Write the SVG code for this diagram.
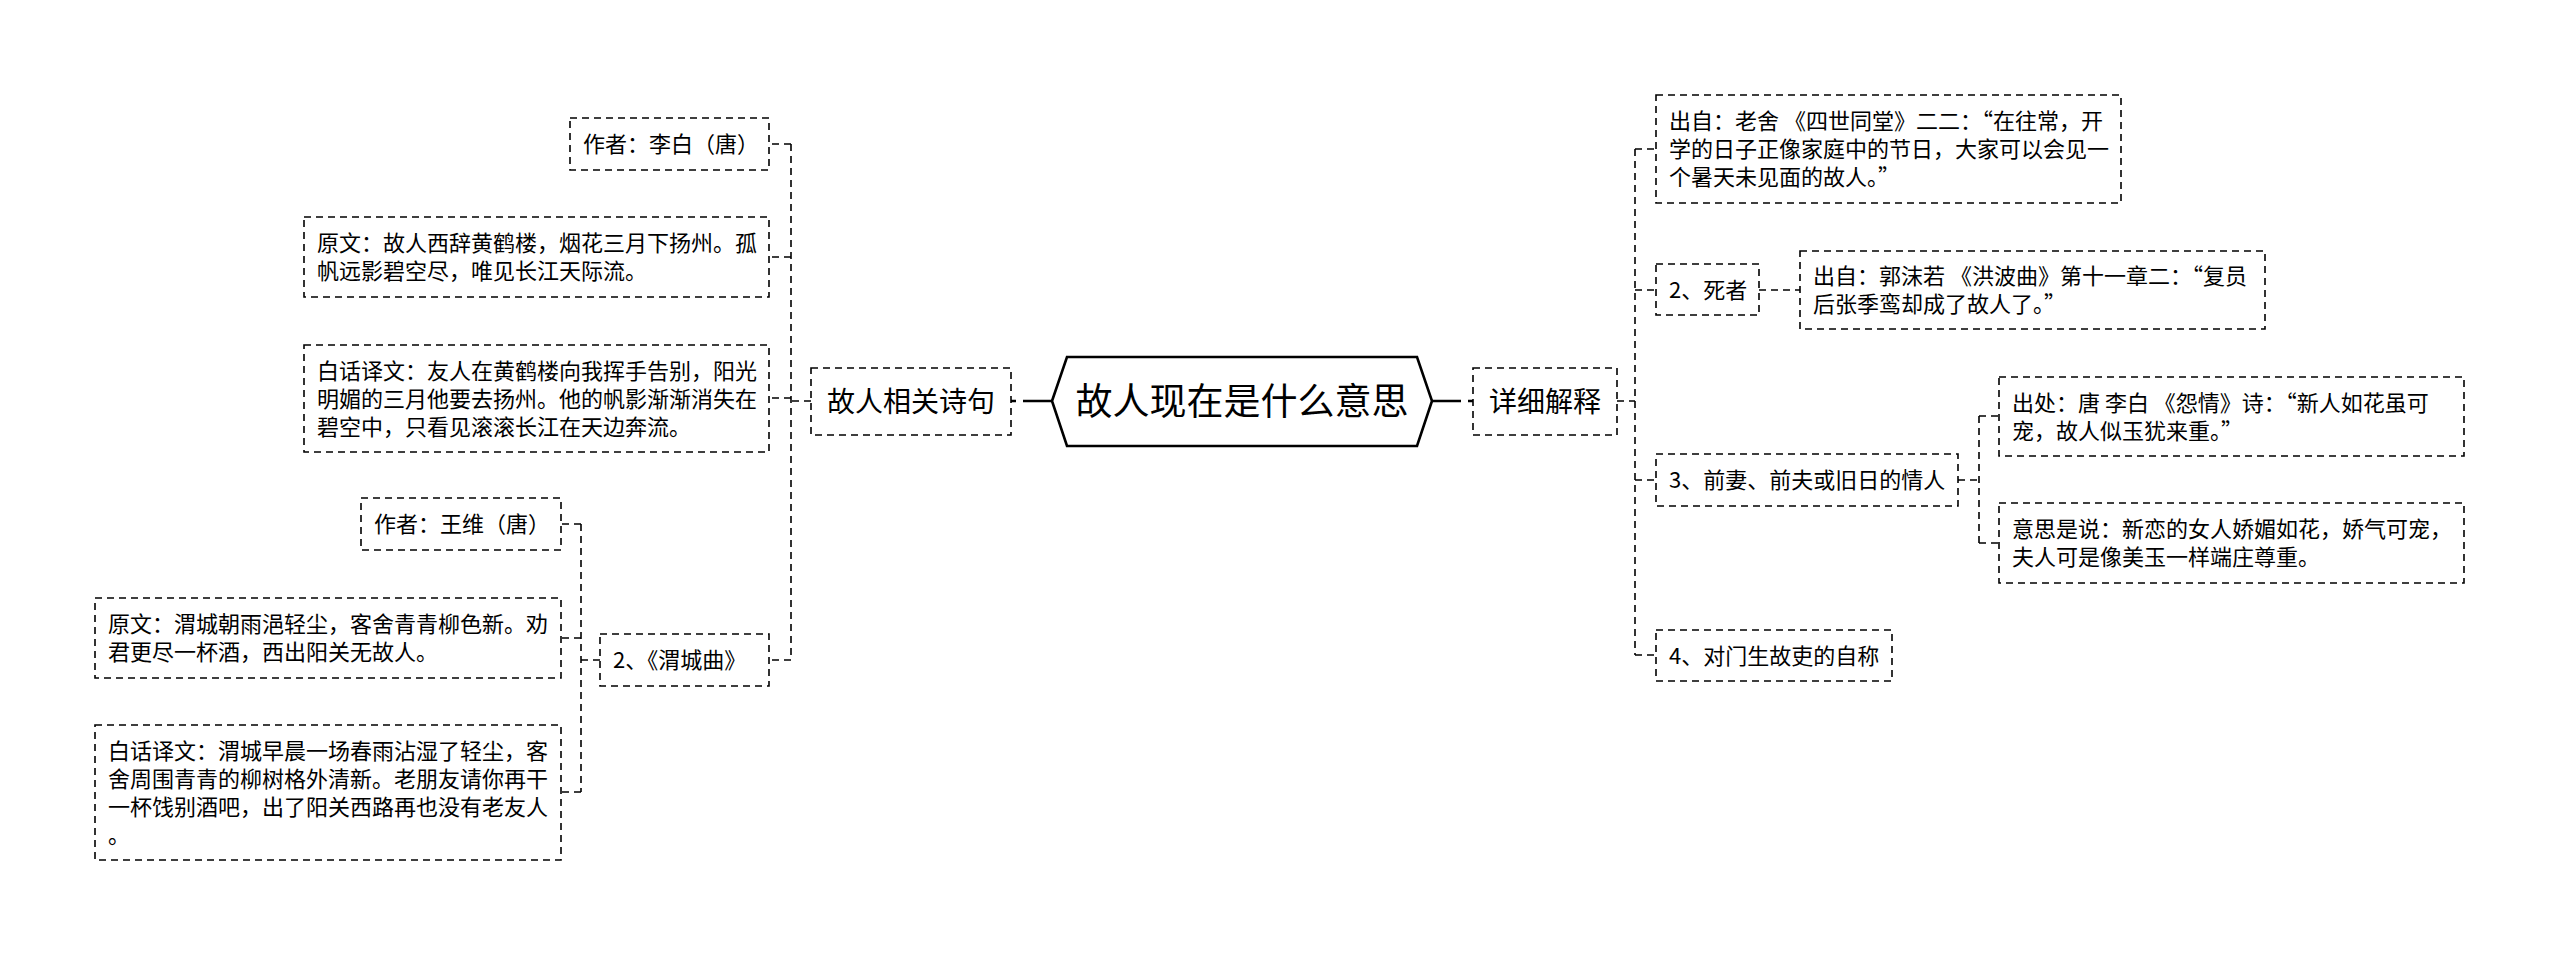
<svg xmlns="http://www.w3.org/2000/svg" width="2560" height="956" viewBox="0 0 2560 956">
<style>
.bg{fill:#fff}
.box{fill:#fff;stroke:#000;stroke-width:1.6;stroke-dasharray:7 5}
.t{font-family:"Noto Sans CJK SC","Liberation Sans",sans-serif;font-size:22px;fill:#000}
.tm{font-family:"Noto Sans CJK SC","Liberation Sans",sans-serif;font-size:28px;fill:#000;text-anchor:middle}
.tc{font-family:"Noto Sans CJK SC","Liberation Sans",sans-serif;font-size:37px;fill:#000;text-anchor:middle}
.c{fill:none;stroke:#000;stroke-width:1.6;stroke-dasharray:7 5}
.cm{fill:none;stroke:#000;stroke-width:2.6;stroke-dasharray:29 7}
.hex{fill:#fff;stroke:#000;stroke-width:2.6}
</style>
<rect class="bg" x="0" y="0" width="2560" height="956"/>
<g id="connectors">
<path class="cm" d="M1052,401 H1011"/>
<path class="cm" d="M1432,401 H1473"/>
<path class="c" d="M811,401 H791"/>
<path class="c" d="M791,144 V660"/>
<path class="c" d="M791,144 H769"/>
<path class="c" d="M791,257 H769"/>
<path class="c" d="M791,398 H769"/>
<path class="c" d="M791,660 H769"/>
<path class="c" d="M600,660 H581"/>
<path class="c" d="M581,524 V792"/>
<path class="c" d="M581,524 H561"/>
<path class="c" d="M581,638 H561"/>
<path class="c" d="M581,792 H561"/>
<path class="c" d="M1617,401 H1635"/>
<path class="c" d="M1635,149 V655"/>
<path class="c" d="M1635,149 H1656"/>
<path class="c" d="M1635,290 H1656"/>
<path class="c" d="M1635,480 H1656"/>
<path class="c" d="M1635,655 H1656"/>
<path class="c" d="M1759,290 H1800"/>
<path class="c" d="M1958,480 H1979"/>
<path class="c" d="M1979,416 V543"/>
<path class="c" d="M1979,416 H1999"/>
<path class="c" d="M1979,543 H1999"/>
</g>
<g id="root">
<polygon class="hex" points="1052,401 1067,357 1417,357 1432,401 1417,446 1067,446"/>
<text class="tc" x="1242" y="415">故人现在是什么意思</text>
</g>
<g id="n-poems">
<rect class="box" x="811" y="368" width="200" height="67"/>
<text class="tm" x="911" y="412">故人相关诗句</text>
</g>
<g id="n-detail">
<rect class="box" x="1473" y="368" width="144" height="67"/>
<text class="tm" x="1545" y="412">详细解释</text>
</g>
<g id="n-libai-author">
<rect class="box" x="570" y="118" width="199" height="52"/>
<text class="t" x="583" y="152">作者：李白（唐）</text>
</g>
<g id="n-libai-text">
<rect class="box" x="304" y="217" width="465" height="80"/>
<text class="t" x="317" y="251">原文：故人西辞黄鹤楼，烟花三月下扬州。孤</text>
<text class="t" x="317" y="279">帆远影碧空尽，唯见长江天际流。</text>
</g>
<g id="n-libai-trans">
<rect class="box" x="304" y="345" width="465" height="107"/>
<text class="t" x="317" y="379">白话译文：友人在黄鹤楼向我挥手告别，阳光</text>
<text class="t" x="317" y="407">明媚的三月他要去扬州。他的帆影渐渐消失在</text>
<text class="t" x="317" y="435">碧空中，只看见滚滚长江在天边奔流。</text>
</g>
<g id="n-weicheng">
<rect class="box" x="600" y="634" width="169" height="52"/>
<text class="t" x="613" y="668">2、《渭城曲》</text>
</g>
<g id="n-wangwei-author">
<rect class="box" x="361" y="498" width="200" height="52"/>
<text class="t" x="374" y="532">作者：王维（唐）</text>
</g>
<g id="n-wangwei-text">
<rect class="box" x="95" y="598" width="466" height="80"/>
<text class="t" x="108" y="632">原文：渭城朝雨浥轻尘，客舍青青柳色新。劝</text>
<text class="t" x="108" y="660">君更尽一杯酒，西出阳关无故人。</text>
</g>
<g id="n-wangwei-trans">
<rect class="box" x="95" y="725" width="466" height="135"/>
<text class="t" x="108" y="759">白话译文：渭城早晨一场春雨沾湿了轻尘，客</text>
<text class="t" x="108" y="787">舍周围青青的柳树格外清新。老朋友请你再干</text>
<text class="t" x="108" y="815">一杯饯别酒吧，出了阳关西路再也没有老友人</text>
<text class="t" x="108" y="843">。</text>
</g>
<g id="n-laoshe">
<rect class="box" x="1656" y="95" width="465" height="108"/>
<text class="t" x="1669" y="129">出自：老舍 《四世同堂》二二：“在往常，开</text>
<text class="t" x="1669" y="157">学的日子正像家庭中的节日，大家可以会见一</text>
<text class="t" x="1669" y="185">个暑天未见面的故人。”</text>
</g>
<g id="n-dead">
<rect class="box" x="1656" y="264" width="103" height="51"/>
<text class="t" x="1669" y="298">2、死者</text>
</g>
<g id="n-guomoruo">
<rect class="box" x="1800" y="251" width="465" height="78"/>
<text class="t" x="1813" y="284">出自：郭沫若 《洪波曲》第十一章二：“复员</text>
<text class="t" x="1813" y="312">后张季鸾却成了故人了。”</text>
</g>
<g id="n-former">
<rect class="box" x="1656" y="454" width="302" height="52"/>
<text class="t" x="1669" y="488">3、前妻、前夫或旧日的情人</text>
</g>
<g id="n-yuanqing">
<rect class="box" x="1999" y="377" width="465" height="79"/>
<text class="t" x="2012" y="411">出处：唐 李白 《怨情》诗：“新人如花虽可</text>
<text class="t" x="2012" y="439">宠，故人似玉犹来重。”</text>
</g>
<g id="n-meaning">
<rect class="box" x="1999" y="503" width="465" height="80"/>
<text class="t" x="2012" y="537">意思是说：新恋的女人娇媚如花，娇气可宠，</text>
<text class="t" x="2012" y="565">夫人可是像美玉一样端庄尊重。</text>
</g>
<g id="n-self">
<rect class="box" x="1656" y="630" width="236" height="51"/>
<text class="t" x="1669" y="664">4、对门生故吏的自称</text>
</g>
</svg>
